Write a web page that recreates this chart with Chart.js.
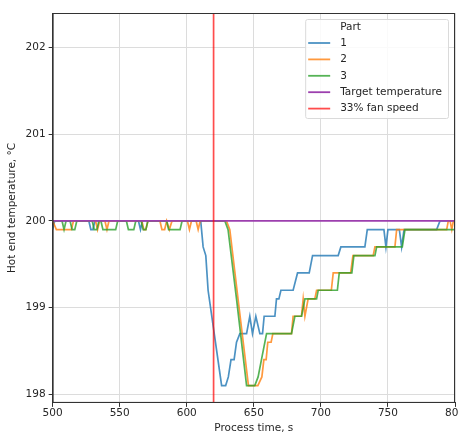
<!DOCTYPE html>
<html>
<head>
<meta charset="utf-8">
<script src="https://cdn.jsdelivr.net/npm/chart.js@4.4.0/dist/chart.umd.min.js"></script>
<style>
  html, body { margin: 0; padding: 0; background: #fff; overflow: hidden; }
</style>
</head>
<body>
<canvas id="tempChart" width="467" height="433"></canvas>
<script>
const xTicks = [500, 550, 600, 650, 700, 750, 800];
const yTicks = [198, 199, 200, 201, 202];
const xRange = [500, 800];
const yRange = [197.9, 202.4];

const targetTemp = 200;
const fanTime = 620;

const part1Time = [500, 501.5, 527, 528.5, 530, 531.5, 564, 565.5, 567, 610.4, 612.2, 614.2, 615.9,
    626, 629, 631, 633, 635.3, 637.1, 639.6, 644.6, 647, 649, 651.5, 654.5, 656.5, 657.7,
    665.7, 666.9, 668.7, 670.2, 679.3, 682.6, 691.3, 693.8, 712.9, 714.9, 732.8, 734.6,
    747, 748.5, 750, 758.5, 760.2, 762, 786.3, 788.8, 800];
const part1Temp = [199.9, 200, 200, 199.9, 199.9, 200, 200, 199.9, 200, 200, 199.7, 199.6, 199.2,
    198.1, 198.1, 198.2, 198.4, 198.4, 198.6, 198.7, 198.7, 198.9, 198.7, 198.9, 198.7, 198.7, 198.9,
    198.9, 199.1, 199.1, 199.2, 199.2, 199.4, 199.4, 199.6, 199.6, 199.7, 199.7, 199.9,
    199.9, 199.7, 199.9, 199.9, 199.7, 199.9, 199.9, 200, 200];

const part2Time = [500, 502.8, 514, 515.5, 532, 533.5, 535, 539, 540.5, 542, 566.5, 568, 569.5, 571,
    580, 581.5, 583.5, 585, 587, 589, 600.5, 602, 603.5, 607, 608.5, 610,
    629.6, 632.1, 639, 646, 653, 656, 657.5, 659.2, 660.4, 662.9, 664.2, 678.1, 679.3,
    685.5, 686.8, 688.1, 690.5, 695.5, 696.8, 707.8, 709.2, 722.2, 723.9, 739, 740.3,
    755.2, 756.5, 793.8, 795, 796.3, 797.6, 798.8, 800];
const part2Temp = [200, 199.9, 199.9, 200, 200, 199.9, 200, 200, 199.9, 200, 200, 199.9, 199.9, 200,
    200, 199.9, 199.9, 200, 199.9, 200, 200, 199.9, 200, 200, 199.9, 200,
    200, 199.9, 199.0, 198.1, 198.1, 198.2, 198.4, 198.4, 198.6, 198.6, 198.7, 198.7, 198.9,
    198.9, 199.1, 198.9, 199.1, 199.1, 199.2, 199.2, 199.4, 199.4, 199.6, 199.6, 199.7,
    199.7, 199.9, 199.9, 200, 200, 199.9, 200, 200];

const part3Time = [500, 507, 508.5, 510, 513, 514.5, 516.5, 518, 529.5, 531, 533, 534.5,
    536, 537.5, 547, 548.5, 555, 556.5, 560.5, 562, 566, 567.5, 569.5, 571, 585, 586.5, 595, 596.5,
    628.4, 630.8, 637.1, 644.6, 650.7, 653.2, 655.7, 659.5, 678.1, 680.6, 685.6, 688.1,
    696.8, 698, 712.3, 713.7, 723.1, 724.6, 740.3, 741.6, 760.7, 762.7, 800];
const part3Temp = [200, 200, 199.9, 200, 200, 199.9, 199.9, 200, 200, 199.9, 199.9, 200,
    200, 199.9, 199.9, 200, 200, 199.9, 199.9, 200, 200, 199.9, 199.9, 200, 200, 199.9, 199.9, 200,
    200, 199.9, 199.1, 198.1, 198.1, 198.2, 198.4, 198.7, 198.7, 198.9, 198.9, 199.1,
    199.1, 199.2, 199.2, 199.4, 199.4, 199.6, 199.6, 199.7, 199.7, 199.9, 199.9];

const fontFamily = '"DejaVu Sans", sans-serif';
const textColor = '#262626';

function toPoints(times, temps) {
    return times.map((t, i) => ({ x: t, y: temps[i] }));
}

// top and right spines, matplotlib style
const framePlugin = {
    id: 'frame',
    afterDatasetsDraw(chart) {
        const { ctx, chartArea } = chart;
        ctx.save();
        ctx.strokeStyle = '#333';
        ctx.lineWidth = 1;
        ctx.strokeRect(chartArea.left + 0.5, chartArea.top + 0.5,
            chartArea.right - chartArea.left - 1, chartArea.bottom - chartArea.top - 1);
        ctx.restore();
    }
};

// legend box in the upper right corner of the plot
const legendPlugin = {
    id: 'boxLegend',
    afterDraw(chart) {
        const { ctx, chartArea } = chart;
        const items = chart.data.datasets;
        ctx.save();
        ctx.font = '10.5px ' + fontFamily;
        const textW = Math.max(...items.map(d => ctx.measureText(d.label).width));
        const w = 3 + 22 + 10 + textW + 6;
        const h = 99;
        const x = chartArea.right - 7 - w;
        const y = chartArea.top + 6;

        ctx.beginPath();
        ctx.roundRect(x + 0.5, y + 0.5, w, h, 2);
        ctx.fillStyle = 'rgba(255,255,255,0.85)';
        ctx.fill();
        ctx.strokeStyle = '#dadada';
        ctx.lineWidth = 1;
        ctx.stroke();

        ctx.fillStyle = textColor;
        ctx.textBaseline = 'middle';
        ctx.fillText('Part', x + 35, y + 8);

        items.forEach((d, i) => {
            const cy = y + 24 + i * 16.4;
            ctx.beginPath();
            ctx.moveTo(x + 3, cy);
            ctx.lineTo(x + 25, cy);
            ctx.strokeStyle = d.borderColor;
            ctx.lineWidth = 1.8;
            ctx.stroke();
            ctx.fillStyle = textColor;
            ctx.fillText(d.label, x + 35, cy);
        });
        ctx.restore();
    }
};

const ctx = document.getElementById('tempChart').getContext('2d');
new Chart(ctx, {
    type: 'line',
    data: {
        datasets: [
            { label: '1', data: toPoints(part1Time, part1Temp), borderColor: 'rgba(31,119,180,0.8)', order: 5 },
            { label: '2', data: toPoints(part2Time, part2Temp), borderColor: 'rgba(255,127,14,0.8)', order: 4 },
            { label: '3', data: toPoints(part3Time, part3Temp), borderColor: 'rgba(44,160,44,0.8)', order: 3 },
            { label: 'Target temperature', data: toPoints(xRange, [targetTemp, targetTemp]), borderColor: '#9c3fae', order: 2 },
            { label: '33% fan speed', data: toPoints([fanTime, fanTime], yRange), borderColor: 'rgba(255,0,0,0.7)', order: 1 }
        ]
    },
    options: {
        responsive: false,
        animation: false,
        events: [],
        layout: { padding: { top: 13, right: 12, bottom: -2, left: 2 } },
        elements: {
            point: { radius: 0 },
            line: { borderWidth: 1.7, tension: 0 }
        },
        plugins: {
            legend: { display: false },
            tooltip: { enabled: false }
        },
        scales: {
            x: {
                type: 'linear',
                min: xRange[0],
                max: xRange[1],
                afterBuildTicks: s => { s.ticks = xTicks.map(v => ({ value: v })); },
                ticks: { color: textColor, padding: 1, maxRotation: 0, font: { family: fontFamily, size: 10.5, lineHeight: 1 } },
                grid: { color: '#dcdcdc', tickColor: '#333', tickLength: 4 },
                border: { color: '#333' },
                title: { display: true, text: 'Process time, s', color: textColor, padding: { top: 3, bottom: 0 }, font: { family: fontFamily, size: 10.5 } }
            },
            y: {
                type: 'linear',
                min: yRange[0],
                max: yRange[1],
                afterBuildTicks: s => { s.ticks = yTicks.map(v => ({ value: v })); },
                ticks: { color: textColor, padding: 3, font: { family: fontFamily, size: 10.5 } },
                grid: { color: '#dcdcdc', tickColor: '#333', tickLength: 4 },
                border: { color: '#333' },
                title: { display: true, text: 'Hot end temperature, °C', color: textColor, padding: { top: 4, bottom: 4 }, font: { family: fontFamily, size: 10.5 } }
            }
        }
    },
    plugins: [framePlugin, legendPlugin]
});
</script>
</body>
</html>
